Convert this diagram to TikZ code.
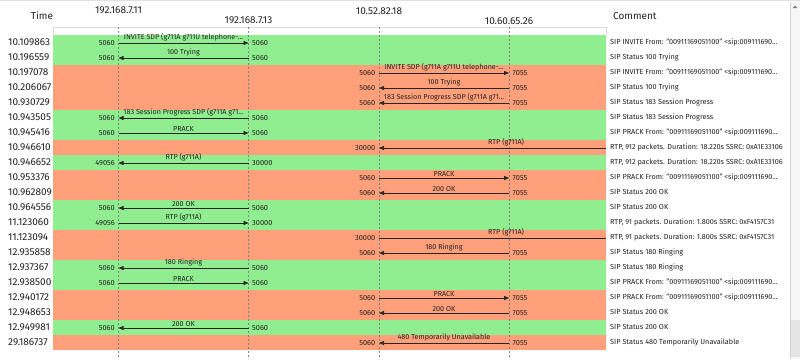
\documentclass[tikz,border=0pt]{standalone}
\usepackage{fontspec}
\setmainfont{Fira Sans}
\usetikzlibrary{arrows.meta}
\definecolor{rowgreen}{HTML}{90EE90}
\definecolor{rowsalmon}{HTML}{FFA07A}
\definecolor{txt}{HTML}{222222}
\tikzset{
  timetxt/.style={font=\fontsize{10}{11}\selectfont, text=txt, inner sep=0pt, anchor=west},
  headtxt/.style={font=\fontsize{10}{11}\selectfont, text=txt, inner sep=0pt},
  cmt/.style={font=\fontsize{7.3}{8}\selectfont, text=txt, inner sep=0pt, anchor=west},
  port/.style={font=\fontsize{7.4}{8}\selectfont, text=txt, inner sep=0pt},
  lbl/.style={font=\fontsize{7.2}{8}\selectfont, text=txt, inner sep=0pt, anchor=south, yshift=1.4pt},
  msgline/.style={draw=black!85, line width=0.75pt},
  tip/.style={arrows={-Triangle[length=5pt,width=4pt]}},
  rtip/.style={arrows={Triangle[length=5pt,width=4pt]-}},
  lifeline/.style={draw=black!50, line width=0.6pt, dash pattern=on 2pt off 2pt},
}
\newcommand\band[4]{%
  \fill[#3] (53,{34.5+15*#1}) rectangle (606,{49.5+15*#1});
  \node[timetxt] (t#1) at (8,{42+15*#1}) {#2};
  \node[cmt] (c#1) at (610,{42+15*#1}) {#4};
}
% #1 idx, #2 left col, #3 right col, #4 tip style, #5 label, #6 left port, #7 right port
\newcommand\msg[7]{%
  \draw[msgline,#4] (#2#1) -- (#3#1) node[lbl,midway] (m#1) {#5};
  \node[port,anchor=east] (pl#1) at ([xshift=-3.5pt]#2#1) {#6};
  \node[port,anchor=west] (pr#1) at ([xshift=3.5pt]#3#1) {#7};
}
\begin{document}
\begin{tikzpicture}[x=1pt,y=-1pt]
\useasboundingbox (0,0) rectangle (800,359);
\fill[white] (0,0) rectangle (800,359);
\draw[black!12, line width=1pt] (0,0.5) -- (800,0.5);
% header
\node[headtxt] (htime) at (42,15.7) {Time};
\node[headtxt] (hA) at (118.5,10.7) {192.168.7.11};
\node[headtxt] (hB) at (248.5,20.7) {192.168.7.13};
\node[headtxt] (hC) at (379,10.7) {10.52.82.18};
\node[headtxt] (hD) at (509,20.7) {10.60.65.26};
\node[headtxt, anchor=west] (hcmt) at (613,15.7) {Comment};
\draw[black!15, line width=0.6pt] (53,34.5) -- (53,27) -- (606,27) -- (606,34.5);
% rows
\band{0}{10.109863}{rowgreen}{SIP INVITE From: "00911169051100" <sip:009111690...}
\band{1}{10.196559}{rowgreen}{SIP Status 100 Trying}
\band{2}{10.197078}{rowsalmon}{SIP INVITE From: "00911169051100" <sip:009111690...}
\band{3}{10.206067}{rowsalmon}{SIP Status 100 Trying}
\band{4}{10.930729}{rowsalmon}{SIP Status 183 Session Progress}
\band{5}{10.943505}{rowgreen}{SIP Status 183 Session Progress}
\band{6}{10.945416}{rowgreen}{SIP PRACK From: "00911169051100" <sip:009111690...}
\band{7}{10.946610}{rowsalmon}{RTP, 912 packets. Duration: 18.220s SSRC: 0xA1E33106}
\band{8}{10.946652}{rowgreen}{RTP, 912 packets. Duration: 18.220s SSRC: 0xA1E33106}
\band{9}{10.953376}{rowsalmon}{SIP PRACK From: "00911169051100" <sip:009111690...}
\band{10}{10.962809}{rowsalmon}{SIP Status 200 OK}
\band{11}{10.964556}{rowgreen}{SIP Status 200 OK}
\band{12}{11.123060}{rowgreen}{RTP, 91 packets. Duration: 1.800s SSRC: 0xF4157C31}
\band{13}{11.123094}{rowsalmon}{RTP, 91 packets. Duration: 1.800s SSRC: 0xF4157C31}
\band{14}{12.935858}{rowsalmon}{SIP Status 180 Ringing}
\band{15}{12.937367}{rowgreen}{SIP Status 180 Ringing}
\band{16}{12.938500}{rowgreen}{SIP PRACK From: "00911169051100" <sip:009111690...}
\band{17}{12.940172}{rowsalmon}{SIP PRACK From: "00911169051100" <sip:009111690...}
\band{18}{12.948653}{rowsalmon}{SIP Status 200 OK}
\band{19}{12.949981}{rowgreen}{SIP Status 200 OK}
\band{20}{29.186737}{rowsalmon}{SIP Status 480 Temporarily Unavailable}
% lifelines
\coordinate (topA) at (118.5,27); \coordinate (botA) at (118.5,359);
\coordinate (topB) at (248.5,27); \coordinate (botB) at (248.5,359);
\coordinate (topC) at (379,27);   \coordinate (botC) at (379,359);
\coordinate (topD) at (509,27);   \coordinate (botD) at (509,359);
\draw[lifeline] (topA) -- (botA);
\draw[lifeline] (topB) -- (botB);
\draw[lifeline] (topC) -- (botC);
\draw[lifeline] (topD) -- (botD);
% anchor points per row
\foreach \i in {0,...,20}{
  \coordinate (A\i) at (118.5,{43+15*\i});
  \coordinate (B\i) at (248.5,{43+15*\i});
  \coordinate (C\i) at (379,{43+15*\i});
  \coordinate (D\i) at (509,{43+15*\i});
  \coordinate (E\i) at (606,{43+15*\i});
}
% messages
\msg{0}{A}{B}{tip}{INVITE SDP (g711A g711U telephone-...}{5060}{5060}
\msg{1}{A}{B}{rtip}{100 Trying}{5060}{5060}
\msg{2}{C}{D}{tip}{INVITE SDP (g711A g711U telephone-...}{5060}{7055}
\msg{3}{C}{D}{rtip}{100 Trying}{5060}{7055}
\msg{4}{C}{D}{rtip}{183 Session Progress SDP (g711A g71...}{5060}{7055}
\msg{5}{A}{B}{rtip}{183 Session Progress SDP (g711A g71...}{5060}{5060}
\msg{6}{A}{B}{tip}{PRACK}{5060}{5060}
\draw[msgline,rtip] (C7) -- (E7) node[lbl,pos=0.56] (m7) {RTP (g711A)};
\node[port,anchor=east] (pl7) at ([xshift=-3.5pt]C7) {30000};
\msg{8}{A}{B}{rtip}{RTP (g711A)}{49056}{30000}
\msg{9}{C}{D}{tip}{PRACK}{5060}{7055}
\msg{10}{C}{D}{rtip}{200 OK}{5060}{7055}
\msg{11}{A}{B}{rtip}{200 OK}{5060}{5060}
\msg{12}{A}{B}{tip}{RTP (g711A)}{49056}{30000}
\draw[msgline] (C13) -- (E13) node[lbl,pos=0.56] (m13) {RTP (g711A)};
\node[port,anchor=east] (pl13) at ([xshift=-3.5pt]C13) {30000};
\msg{14}{C}{D}{rtip}{180 Ringing}{5060}{7055}
\msg{15}{A}{B}{rtip}{180 Ringing}{5060}{5060}
\msg{16}{A}{B}{tip}{PRACK}{5060}{5060}
\msg{17}{C}{D}{tip}{PRACK}{5060}{7055}
\msg{18}{C}{D}{rtip}{200 OK}{5060}{7055}
\msg{19}{A}{B}{rtip}{200 OK}{5060}{5060}
\msg{20}{C}{D}{rtip}{480 Temporarily Unavailable}{5060}{7055}
% scrollbar
\fill[black!3] (790,2) rectangle (800,359);
\draw[black!18, line width=0.6pt] (790,2) -- (790,359);
\fill[black!55] (793,8) -- (797,8) -- (795,5.5) -- cycle;
\fill[black!10] (791,320) rectangle (799.5,357);
\end{tikzpicture}
\end{document}
